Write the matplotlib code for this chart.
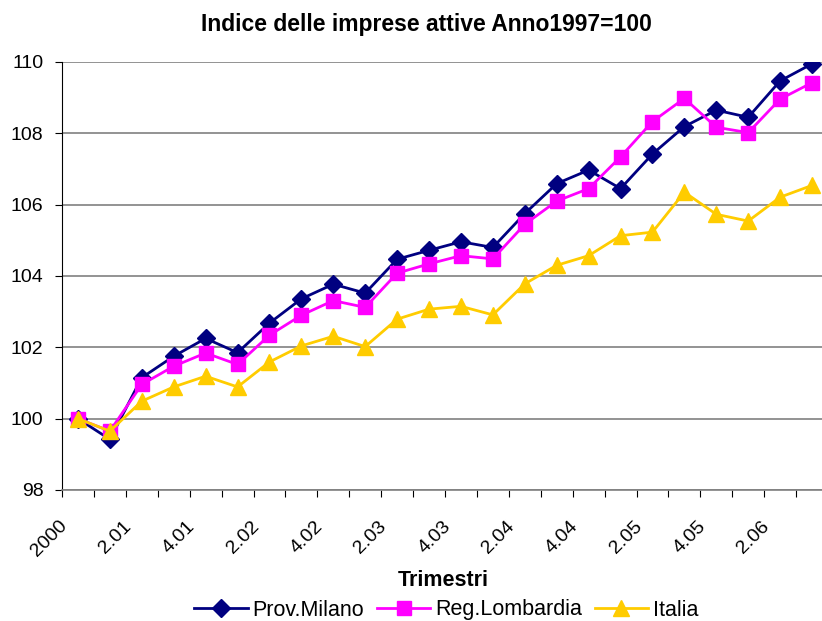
import numpy as np
import matplotlib.pyplot as plt
from matplotlib.transforms import ScaledTranslation

plt.rcParams['font.family'] = ['Liberation Sans', 'DejaVu Sans']

trimestri = ['2000', '1.01', '2.01', '3.01', '4.01', '1.02', '2.02', '3.02', '4.02',
             '1.03', '2.03', '3.03', '4.03', '1.04', '2.04', '3.04', '4.04',
             '1.05', '2.05', '3.05', '4.05', '1.06', '2.06', '3.06']

milano = [100.0, 99.42, 101.15, 101.75, 102.25, 101.85, 102.68, 103.36, 103.77,
          103.52, 104.47, 104.72, 104.96, 104.8, 105.75, 106.59, 106.97,
          106.45, 107.42, 108.19, 108.65, 108.45, 109.47, 109.95]
lombardia = [100.0, 99.65, 100.96, 101.47, 101.84, 101.52, 102.34, 102.9, 103.31,
             103.12, 104.08, 104.34, 104.57, 104.48, 105.45, 106.1, 106.45,
             107.34, 108.33, 108.98, 108.17, 108.02, 108.96, 109.42]
italia = [100.0, 99.65, 100.49, 100.89, 101.19, 100.89, 101.59, 102.04, 102.31,
          102.02, 102.79, 103.07, 103.15, 102.91, 103.78, 104.3, 104.57,
          105.13, 105.23, 106.35, 105.73, 105.54, 106.21, 106.54]

x = np.arange(len(trimestri))

fig = plt.figure(figsize=(8.22, 6.21), dpi=100)
ax = fig.add_axes([62/822, 131/621, 766/822, 428/621])

ax.plot(x, milano, color='#000080', lw=2, marker='D', ms=9, label='Prov.Milano')
ax.plot(x, lombardia, color='#FF00FF', lw=2, marker='s', ms=10, label='Reg.Lombardia')
ax.plot(x, italia, color='#FFCC00', lw=2, marker='^', ms=11, label='Italia')

ax.set_xlim(-0.5, len(trimestri) - 0.5)
ax.set_ylim(98, 110)
ax.set_yticks(np.arange(98, 111, 2))
ax.yaxis.grid(True, color='#808080', lw=1.2)
ax.set_axisbelow(True)
for s in ['top', 'right']:
    ax.spines[s].set_visible(False)
ax.spines['left'].set_color('black')
ax.spines['bottom'].set_color('#808080')
ax.spines['bottom'].set_linewidth(1.2)

# tick marks between categories, labels every other category
ax.set_xticks(np.arange(-0.5, len(trimestri), 1))
ax.set_xticklabels([])
ax.tick_params(axis='x', length=5, direction='out')
ax.tick_params(axis='y', length=5, labelsize=14, pad=8.5)

# rotated category labels, placed like Excel does
off = ax.get_xaxis_transform() + ScaledTranslation(-0.19, -0.275, fig.dpi_scale_trans)
for xi, lab in zip(x[::2], trimestri[::2]):
    ax.text(xi, 0, lab, transform=off, rotation=45, ha='right', va='top',
            rotation_mode='anchor', fontsize=14, clip_on=False)

fig.text(426/822, 1 - 25/621, 'Indice delle imprese attive Anno1997=100',
         ha='center', va='center', fontsize=16.5, fontweight='bold')
fig.text(443/822, 1 - 581/621, 'Trimestri', ha='center', va='center',
         fontsize=15.5, fontweight='bold')

fig.legend(loc='center', bbox_to_anchor=(446/822, 1 - 610/621), ncol=3,
           frameon=False, fontsize=15.5, handlelength=2.5, handletextpad=0.2,
           columnspacing=0.6, borderpad=0)

fig.savefig('out.png', dpi=100)
